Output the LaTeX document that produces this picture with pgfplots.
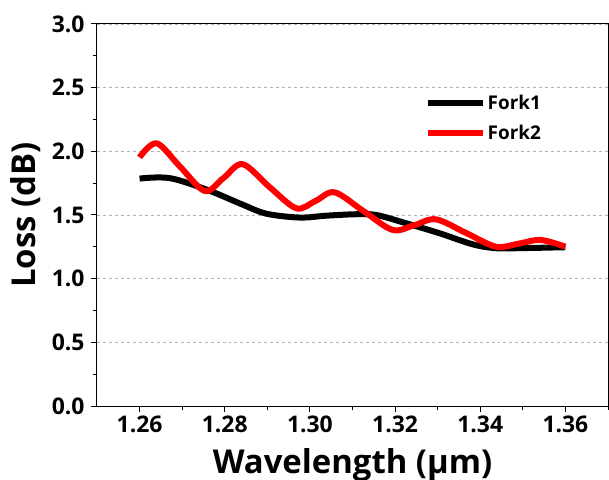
\documentclass[border=0pt]{standalone}
\usepackage{pgfplots}
\pgfplotsset{compat=1.18}
\usepackage{fontspec}
\setmainfont{Open Sans}
\begin{document}
\begin{tikzpicture}
\begin{axis}[
  name=ax,
  scale only axis,
  width=511bp, height=382bp,
  xmin=1.25, xmax=1.37, ymin=0, ymax=3.0,
  xtick={1.26,1.28,...,1.37},
  ytick={0,0.5,...,3.01},
  minor x tick num=1, minor y tick num=1,
  tick align=outside,
  tick pos=left,
  major tick length=6bp, minor tick length=4bp,
  every tick/.style={black, line width=1bp},
  axis line style={line width=1bp},
  /pgf/number format/assume math mode=true,
  xticklabel={\pgfmathprintnumber[fixed,fixed zerofill,precision=2]{\tick}},
  yticklabel={\pgfmathprintnumber[fixed,fixed zerofill,precision=1]{\tick}},
  ticklabel style={font=\fontsize{23}{23}\selectfont\bfseries},
  yticklabel style={xshift=-3bp},
  xlabel={Wavelength (µm)}, ylabel={Loss (dB)},
  label style={font=\fontsize{33}{33}\selectfont\bfseries},
  xlabel style={at={(axis description cs:0.5,0)}, anchor=base, yshift=-67bp},
  ylabel style={at={(axis description cs:0,0.5)}, anchor=base, yshift=61bp},
  ymajorgrids,
  grid style={gray!60, dashed, line width=0.6bp},
  legend style={at={(0.635,0.825)}, anchor=north west, draw=none, fill=none,
    font=\fontsize{19}{19}\selectfont\bfseries, row sep=10bp},
  legend cell align=left,
  legend image code/.code={\draw[#1] (0bp,0bp) -- (55bp,0bp);},
]
\addplot[black, line width=6bp, smooth, tension=0.55] coordinates {
(1.260,1.786) (1.267,1.790) (1.2757,1.70) (1.2843,1.58) (1.2898,1.51)
(1.2976,1.48) (1.3040,1.495) (1.3109,1.506) (1.3156,1.50) (1.3226,1.435)
(1.3304,1.357) (1.3382,1.27) (1.3437,1.239) (1.350,1.240) (1.360,1.247)
};
\addlegendentry{Fork1}
\addplot[red, line width=6bp, smooth, tension=0.55] coordinates {
(1.260,1.953) (1.264,2.063) (1.2695,1.88) (1.2753,1.689) (1.2797,1.79)
(1.2842,1.899) (1.2905,1.72) (1.2968,1.553) (1.3013,1.61) (1.3058,1.678)
(1.3126,1.53) (1.3194,1.383) (1.3245,1.42) (1.3296,1.466) (1.3366,1.36)
(1.3437,1.251) (1.349,1.275) (1.3542,1.304) (1.360,1.251)
};
\addlegendentry{Fork2}
\end{axis}
\pgfresetboundingbox
\path ([shift={(-97bp,-74bp)}]ax.south west) rectangle ([shift={(1bp,24bp)}]ax.north east);
\end{tikzpicture}
\end{document}
